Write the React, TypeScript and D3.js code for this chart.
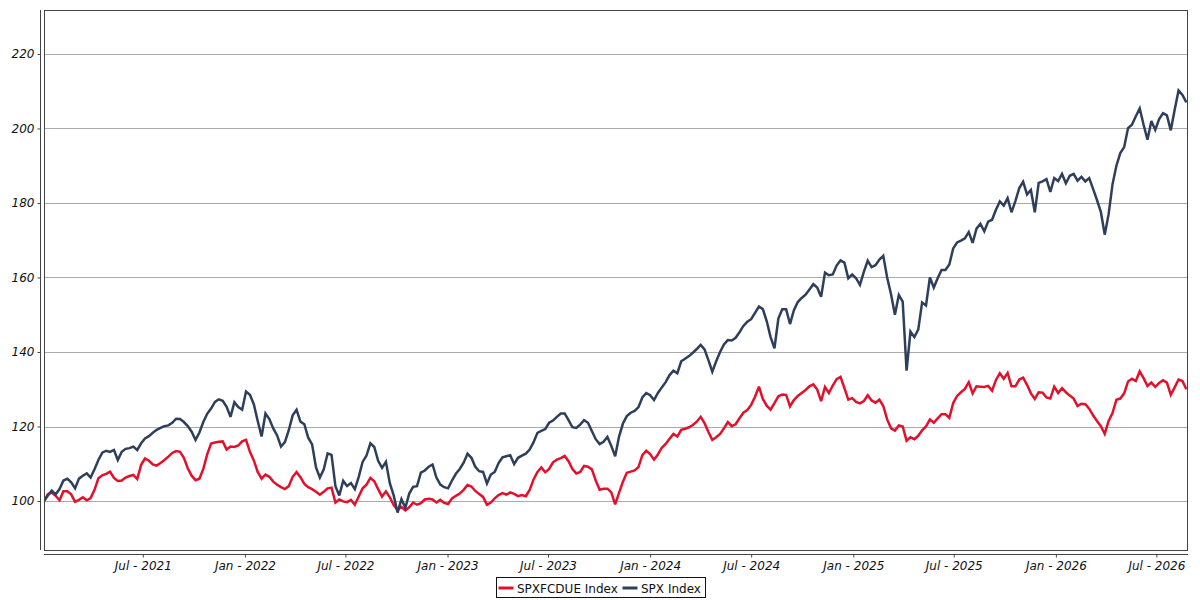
import React, { useEffect, useRef } from 'react';
import * as d3 from 'd3';

// weekly closes, rebased to 100, starting Mon 4 Jan 2021
const startDate = '2021-01-04';

const spxfcdue: number[] = [
  100, 101.8, 102.3, 101.4, 100.2, 102.6, 102.6, 101.8, 99.8, 100.3,
  101, 100.2, 100.8, 103, 106.1, 106.9, 107.3, 107.9, 106.2, 105.4,
  105.5, 106.3, 106.7, 107, 105.9, 109.7, 111.4, 110.8, 109.8, 109.5,
  110.2, 111, 111.9, 112.9, 113.4, 113.2, 111.6, 108.8, 106.8, 105.6,
  106, 108.6, 112.5, 115.4, 115.7, 115.9, 116, 113.8, 114.6, 114.5,
  114.9, 116, 116.4, 113.2, 110.9, 107.8, 106, 107.1, 106.5, 105.2,
  104.4, 103.7, 103.2, 104, 106.5, 107.8, 106.4, 104.6, 103.7, 103.2,
  102.5, 101.7, 102.5, 103.4, 103.6, 99.6, 100.4, 99.9, 99.7, 100.3,
  99, 101.2, 103.4, 104.4, 106.2, 105.3, 103.2, 101.2, 102.6, 101,
  98.9, 97.6, 98.4, 97.5, 98.3, 99.6, 99, 99.4, 100.4, 100.6,
  100.4, 99.6, 100.3, 99.5, 99.2, 100.7, 101.4, 102, 103, 104.3,
  103.9, 102.7, 101.9, 101.1, 99, 99.6, 100.7, 101.6, 102.1, 101.7,
  102.3, 101.9, 101.3, 101.6, 101.3, 103, 105.8, 107.8, 109, 107.7,
  108.6, 110.4, 111.1, 111.5, 112.1, 110.7, 108.6, 107.4, 107.8, 109.4,
  109.2, 108.5, 105.5, 103, 103.3, 103.3, 102.3, 99.1, 102.2, 105.2,
  107.6, 107.9, 108.2, 109.1, 112.3, 113.5, 112.6, 111.1, 112.5, 114.3,
  115.3, 116.7, 118, 117.3, 119.1, 119.4, 119.8, 120.4, 121.3, 122.6,
  120.9, 118.5, 116.4, 117.1, 118, 119.5, 121.2, 120.1, 120.6, 122.2,
  123.7, 124.4, 125.8, 128, 130.7, 127.4, 125.6, 124.5, 126.3, 128.1,
  128.6, 128.5, 125.4, 127.1, 128.2, 129, 129.8, 130.8, 131.3, 129.9,
  126.8, 130.6, 129, 131, 132.7, 133.3, 130.3, 127.2, 127.6, 126.6,
  126.2, 126.8, 128.4, 127, 126.4, 127.2, 125.5, 121.9, 119.5, 118.9,
  120.3, 120, 116.2, 117.1, 116.6, 117.5, 119, 120, 121.9, 121,
  122.2, 123.3, 123.3, 122.3, 126.3, 128.2, 129.2, 130.1, 131.9, 128.9,
  130.8, 130.7, 130.6, 130.9, 129.6, 132.5, 134.3, 132.8, 134.4, 130.8,
  130.8, 132.6, 133.1, 131.2, 128.9, 127.4, 129.2, 129.1, 127.8, 127.5,
  130.7, 129, 130.3, 129.2, 128.3, 127.5, 125.5, 126.1, 126, 124.8,
  123, 121.5, 120.1, 118, 121.5, 123.6, 127.2, 127.5, 128.9, 132.1,
  132.8, 132.2, 134.8, 133, 130.9, 131.8, 130.6, 131.7, 132.4, 131.8,
  128.5, 130.5, 132.6, 132.2, 130,
];

const spx: number[] = [
  100, 101.5, 102.8, 101.8, 103.2, 105.5, 106, 105, 103.4, 106,
  106.8, 107.4, 106.3, 108.5, 111, 113, 113.5, 113.2, 113.7, 111,
  113.2, 114, 114.2, 114.6, 113.7, 115.5, 116.8, 117.4, 118.3, 119.1,
  119.6, 120.1, 120.3, 121, 122.1, 122, 121.2, 120.1, 118.6, 116.4,
  118.4, 121.2, 123.4, 124.8, 126.6, 127.3, 126.9, 125.3, 122.6, 126.5,
  125.2, 124.5, 129.4, 128.5, 126, 121.5, 117.3, 123.5, 122, 119.5,
  117.6, 114.6, 115.8, 119, 123, 124.5, 121.3, 120.6, 117, 115.2,
  109, 106.3, 108.5, 112.8, 112.4, 104, 101.5, 105.4, 104, 104.8,
  103.2, 106.5, 110.5, 112.2, 115.5, 114.5, 110.8, 108.9, 110.5, 104.8,
  101.5, 96.9, 100.5, 98.2, 102, 103.8, 104, 107.6, 108.2, 109.2,
  109.8, 106.3, 104.4, 103.7, 103.4, 105.5, 107.3, 108.6, 110.3, 112.7,
  111.6, 109.2, 108, 107.8, 104.7, 107.1, 107.8, 110.2, 111.7, 112,
  112.3, 109.9, 111.6, 112.2, 112.7, 113.8, 115.8, 118.3, 118.8, 119.3,
  121, 121.6, 122.6, 123.5, 123.5, 121.7, 119.8, 119.6, 120.5, 121.7,
  121, 118.8, 116.6, 115.3, 115.9, 117.2, 114.8, 112, 117.3, 120.8,
  122.8, 123.7, 124.2, 125.2, 127.8, 129, 128.4, 127.1, 129, 130.5,
  131.9, 133.8, 135, 134.3, 137.5, 138.2, 138.9, 139.8, 140.8, 141.9,
  140.7, 137.8, 134.7, 137.5, 140, 142, 143.2, 143.1, 143.8, 145.3,
  147, 148.1, 148.8, 150.5, 152.2, 151.5, 148.3, 144, 141, 149,
  151.5, 151.5, 147.5, 151.2, 153.4, 154.5, 155.4, 156.8, 158.2, 157.3,
  154.8, 161.3, 160.6, 160.8, 163.2, 164.6, 164, 159.8, 160.8, 159.8,
  158, 161.5, 164.5, 162.8, 163.3, 164.8, 165.8, 160, 155.5, 150,
  155.3, 153.5, 135, 145.5, 144, 146, 153.3, 152.5, 160, 157.3,
  159.8, 162, 162, 163.5, 167.8, 169.4, 169.9, 170.5, 172.2, 169.3,
  173.1, 174.4, 172.4, 175, 175.5, 178.2, 180.4, 179.3, 181.3, 177.5,
  180.5, 184, 185.7, 182.3, 183.5, 177.5, 185.4, 185.8, 186.4, 183,
  186.7, 185.9, 187.8, 185.3, 187.3, 187.8, 186, 187, 185.8, 186.7,
  183.8, 180.8, 177.6, 171.5, 177, 185, 190, 193.4, 195, 200.1,
  201, 203.3, 205.4, 201, 197, 202, 199.6, 202.5, 204.1, 203.5,
  199.5, 205, 210.2, 209, 207,
];

const seriesNames = ['SPXFCDUE Index', 'SPX Index'];
const seriesColors = ['#e3102b', '#2e3f5b'];
const yTicks = [100, 120, 140, 160, 180, 200, 220];
const xTicks = [
  '2021-07-01', '2022-01-01', '2022-07-01', '2023-01-01', '2023-07-01', '2024-01-01',
  '2024-07-01', '2025-01-01', '2025-07-01', '2026-01-01', '2026-07-01',
];
const xDomain = ['2021-01-04', '2026-08-27'];
const yDomain = [86.85, 231.8];

const W = 1200;
const H = 600;
const plot = { left: 44, right: 1188, top: 10, bottom: 550 };

export default function App() {
  const svgRef = useRef<SVGSVGElement>(null);

  useEffect(() => {
    if (!svgRef.current) return;
    const svg = d3.select(svgRef.current);
    svg.selectAll('*').remove();

    const parse = d3.utcParse('%Y-%m-%d');
    const start = parse(startDate) as Date;
    const dates = spx.map((_, i) => d3.utcDay.offset(start, 7 * i));

    const x = d3.scaleUtc()
      .domain(xDomain.map(d => parse(d) as Date))
      .range([plot.left, plot.right]);
    const y = d3.scaleLinear().domain(yDomain).range([plot.bottom, plot.top]);

    const font = '"DejaVu Sans", Verdana, sans-serif';

    svg.append('rect')
      .attr('width', W).attr('height', H).attr('fill', '#fff');

    // horizontal grid
    svg.append('g')
      .selectAll('line')
      .data(yTicks)
      .enter()
      .append('line')
      .attr('x1', plot.left).attr('x2', plot.right)
      .attr('y1', d => Math.round(y(d)) + 0.5).attr('y2', d => Math.round(y(d)) + 0.5)
      .attr('stroke', '#ababab').attr('stroke-width', 1);

    // Y axis (offset a few px left of the plot frame)
    const yAxis = svg.append('g')
      .attr('transform', `translate(${plot.left - 3.5},0)`)
      .call(d3.axisLeft(y).tickValues(yTicks).tickSize(3).tickPadding(3).tickFormat(d3.format('d')));
    yAxis.select('.domain').attr('d', `M0,${plot.top}V${plot.bottom}`).attr('stroke', '#444');
    yAxis.selectAll('.tick line').attr('stroke', '#444');
    yAxis.selectAll('text')
      .attr('font-family', font).attr('font-size', 12).attr('font-style', 'italic').attr('fill', '#111');

    // X axis (below the frame)
    const fmt = d3.utcFormat('%b - %Y');
    const xAxis = svg.append('g')
      .attr('transform', `translate(0,${plot.bottom + 4.5})`)
      .call(d3.axisBottom(x)
        .tickValues(xTicks.map(d => parse(d) as Date))
        .tickSize(3).tickPadding(4)
        .tickFormat(d => fmt(d as Date)));
    xAxis.select('.domain').attr('d', `M${plot.left},0H${plot.right}`).attr('stroke', '#444');
    xAxis.selectAll('.tick line').attr('stroke', '#444');
    xAxis.selectAll('text')
      .attr('font-family', font).attr('font-size', 12).attr('font-style', 'italic').attr('fill', '#111');

    // lines
    const clipId = 'plot-clip';
    svg.append('clipPath').attr('id', clipId)
      .append('rect')
      .attr('x', plot.left).attr('y', plot.top)
      .attr('width', plot.right - plot.left).attr('height', plot.bottom - plot.top);

    const line = d3.line<number>()
      .x((_, i) => x(dates[i]))
      .y(d => y(d));

    [spxfcdue, spx].forEach((vals, k) => {
      svg.append('path')
        .datum(vals)
        .attr('clip-path', `url(#${clipId})`)
        .attr('d', line)
        .attr('fill', 'none')
        .attr('stroke', seriesColors[k])
        .attr('stroke-width', 2.5)
        .attr('stroke-linejoin', 'miter')
        .attr('stroke-miterlimit', 3);
    });

    // plot frame
    svg.append('rect')
      .attr('x', plot.left + 0.5).attr('y', plot.top + 0.5)
      .attr('width', plot.right - plot.left - 1).attr('height', plot.bottom - plot.top)
      .attr('fill', 'none').attr('stroke', '#444').attr('stroke-width', 1);

    // legend
    const lg = svg.append('g').attr('transform', 'translate(496.5,577.5)');
    lg.append('rect')
      .attr('width', 209).attr('height', 20)
      .attr('fill', '#fff').attr('stroke', '#111').attr('stroke-width', 1);
    const itemX = [2, 126];
    seriesNames.forEach((name, k) => {
      lg.append('line')
        .attr('x1', itemX[k]).attr('x2', itemX[k] + 15)
        .attr('y1', 10.5).attr('y2', 10.5)
        .attr('stroke', seriesColors[k]).attr('stroke-width', 3);
      lg.append('text')
        .attr('x', itemX[k] + 18.5).attr('y', 15)
        .attr('font-family', font).attr('font-size', 12).attr('fill', '#111')
        .text(name);
    });
  }, []);

  return (
    <svg
      ref={svgRef}
      width={W}
      height={H}
      style={{ position: 'absolute', left: 0, top: 0, display: 'block' }}
    />
  );
}
